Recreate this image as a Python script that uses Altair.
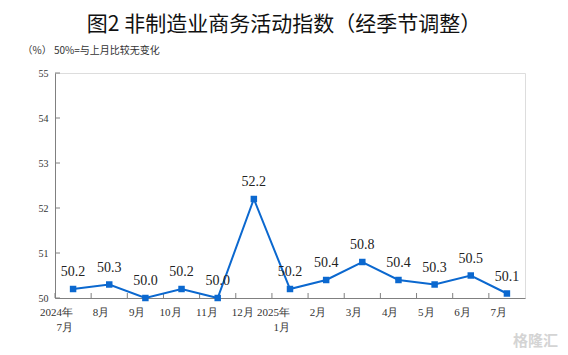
import altair as alt
import pandas as pd

months = ["2024年|7月", "8月", "9月", "10月", "11月", "12月", "2025年|1月",
          "2月", "3月", "4月", "5月", "6月", "7月"]
values = [50.2, 50.3, 50.0, 50.2, 50.0, 52.2, 50.2, 50.4, 50.8, 50.4, 50.3, 50.5, 50.1]
y_ticks = [50, 51, 52, 53, 54, 55]

df = pd.DataFrame({"month": months, "value": values,
                   "label": [f"{v:.1f}" for v in values]})
df_yt = pd.DataFrame({"v": y_ticks})

SERIF = "Liberation Serif"
BLUE = "#0b68cf"
GRAY = "#808080"

x_enc = alt.X("month:N", sort=None, title=None,
              axis=alt.Axis(labelExpr="split(datum.value, '|')", labelAngle=0,
                            ticks=False, labelPadding=14, labelLineHeight=15,
                            labelFont=SERIF, labelFontSize=11, labelColor="#333",
                            domainColor=GRAY, grid=False))
y_scale = alt.Scale(domain=[50, 55], nice=False, zero=False)

base = alt.Chart(df)

line = base.mark_line(color=BLUE, strokeWidth=2).encode(
    x=x_enc,
    y=alt.Y("value:Q", scale=y_scale,
            title="（%）  50%=与上月比较无变化",
            axis=alt.Axis(values=y_ticks, ticks=False, grid=False, labelPadding=7,
                          labelFont=SERIF, labelFontSize=10, labelColor="#333",
                          domainColor=GRAY, titleAngle=0, titleX=-33, titleY=-23,
                          titleAlign="left", titleBaseline="middle",
                          titleFont="Noto Sans CJK SC", titleFontSize=10,
                          titleFontWeight="normal", titleColor="#333")),
)
pts = base.mark_square(color=BLUE, size=42, opacity=1).encode(
    x=alt.X("month:N", sort=None), y=alt.Y("value:Q", scale=y_scale))
labels = base.mark_text(dy=-17, font=SERIF, fontSize=14, color="#222").encode(
    x=alt.X("month:N", sort=None), y=alt.Y("value:Q", scale=y_scale), text="label:N")

xticks = base.mark_rule(color=GRAY, strokeWidth=1).encode(
    x=alt.X("month:N", sort=None, bandPosition=0),
    y=alt.value(220), y2=alt.value(225))
yticks = alt.Chart(df_yt).mark_rule(color=GRAY, strokeWidth=1).encode(
    y=alt.Y("v:Q", scale=y_scale), x=alt.value(0), x2=alt.value(5))

wm = alt.Chart(pd.DataFrame({"t": ["格隆汇"]})).mark_text(
    font="Noto Sans CJK SC", fontSize=15, color="#d4d4d4", align="left",
    fontWeight="bold").encode(x=alt.value(458), y=alt.value(268), text="t:N")

chart = alt.layer(xticks, yticks, line, pts, labels, wm).properties(
    width=470, height=225,
    autosize=alt.AutoSizeParams(type="none"),
    padding={"left": 47, "top": 65, "right": 35, "bottom": 57},
    title=alt.TitleParams("图2  非制造业商务活动指数（经季节调整）", anchor="middle",
                          font="Noto Sans CJK SC", fontSize=21, fontWeight="normal",
                          color="#111", offset=10, dx=-6),
).configure_view(stroke=GRAY, strokeWidth=1).configure(background="white")

chart.save("out.html", embed_options={"renderer": "svg", "actions": False})
